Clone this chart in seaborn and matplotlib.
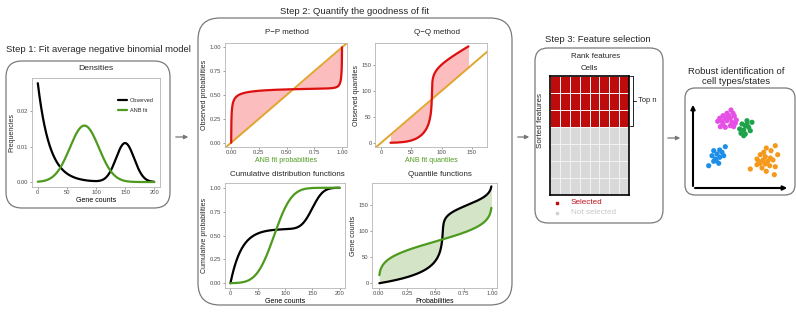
import math
import numpy as np
import pandas as pd
import matplotlib
matplotlib.use("Agg")
import matplotlib.pyplot as plt
import seaborn as sns
from matplotlib.patches import FancyBboxPatch
from matplotlib.colors import ListedColormap

# observed gene counts: a decaying component plus a peak
obs_decay_weight = 0.57
obs_decay_rate = 0.049
obs_peak_mean = 150
obs_peak_sd = 15.6
# average negative binomial fit
anb_mean = 80
anb_sd = 25

gene_counts = np.linspace(0, 200, 801)
probs = np.linspace(0.005, 0.995, 400)

# step 3 grid
n_cells = 8
n_features = 7
top_n = 3

# step 4 clusters (x, y positions)
magenta_x = [38, 34, 40, 30, 35.7, 41.3, 26.7, 32.3, 37.3, 43.3, 24.7, 29, 34, 39, 42.3, 27.3, 32.3, 37.3, 40.7, 30]
magenta_y = [78, 74.7, 74.7, 72.3, 72.3, 72, 69.7, 69.7, 69.7, 68, 66.7, 66.7, 67.3, 65.7, 64.7, 61.3, 60.7, 62.3, 61.3, 64]
green_x = [54, 59, 49, 52.3, 55.7, 46.7, 50.7, 57.3, 48, 52.3, 50.7, 54]
green_y = [67.3, 65.7, 64, 62.3, 60.7, 59, 58, 57.3, 54.7, 54, 52.3, 64]
blue_x = [32.3, 26.7, 20.7, 29, 24, 19, 30.7, 26.7, 22.3, 20.7, 25.7, 15.7, 23.3]
blue_y = [41.3, 38, 37.3, 35.7, 34, 32.3, 32.3, 30.7, 29, 26.7, 24.7, 22.3, 27.3]
orange_x = [82.3, 73.3, 78, 84.7, 67.3, 72.3, 77.3, 64, 70, 74.7, 80, 67.3, 72.3, 82.3, 64, 76.7, 69, 57.3, 73.3, 81.3, 65.7, 70.7]
orange_y = [42.3, 40, 37.3, 33.3, 33.3, 31.3, 30, 29, 28, 26.7, 28, 24.7, 24, 21.3, 23.3, 22.3, 20, 19, 16.7, 13.3, 26.7, 35.7]

RED = "#DD0F0F"
PINK = "#FBBDBD"
GOLD = "#E1A630"
GREEN = "#4E9A1E"
LGREEN = "#D3E5C6"
BOXC = "#7A7A7A"

sns.set_style("white")
plt.rcParams["font.family"] = ["Liberation Sans", "DejaVu Sans"]

erf = np.vectorize(math.erf)


def norm_pdf(x, m, s):
    return np.exp(-0.5 * ((x - m) / s) ** 2) / (s * np.sqrt(2 * np.pi))


def norm_cdf(x, m, s):
    return 0.5 * (1 + erf((x - m) / (s * np.sqrt(2))))


def obs_pdf(x):
    return (obs_decay_weight * obs_decay_rate * np.exp(-obs_decay_rate * x)
            + (1 - obs_decay_weight) * norm_pdf(x, obs_peak_mean, obs_peak_sd))


def obs_cdf(x):
    return (obs_decay_weight * (1 - np.exp(-obs_decay_rate * x))
            + (1 - obs_decay_weight) * norm_cdf(x, obs_peak_mean, obs_peak_sd))


x_fine = np.linspace(0, 260, 6000)
obs_q = np.interp(probs, obs_cdf(x_fine), x_fine)
anb_q = np.interp(probs, norm_cdf(x_fine, anb_mean, anb_sd), x_fine)

W, H = 796, 316
fig = plt.figure(figsize=(W / 100, H / 100), dpi=100)

bg = fig.add_axes([0, 0, 1, 1])
bg.set_xlim(0, W)
bg.set_ylim(H, 0)
bg.axis("off")


def box(x, y, w, h, r):
    bg.add_patch(FancyBboxPatch((x, y), w, h, boxstyle=f"round,pad=0,rounding_size={r}",
                                fc="white", ec=BOXC, lw=0.9))


def arrow(x0, x1, y, color="#777777", lw=0.9, ms=6):
    bg.annotate("", xy=(x1, y), xytext=(x0, y),
                arrowprops=dict(arrowstyle="-|>", color=color, lw=lw, mutation_scale=ms))


def txt(x, y, s, size=6.8, **kw):
    bg.text(x, y, s, fontsize=size, va="center", **kw)


def panel(x0, x1, y0, y1):
    ax = fig.add_axes([x0 / W, 1 - y1 / H, (x1 - x0) / W, (y1 - y0) / H])
    for s in ax.spines.values():
        s.set_visible(True)
        s.set_color("#B5B5B5")
        s.set_linewidth(0.6)
    ax.tick_params(labelsize=4.2, length=1.5, width=0.4, color="#555555", pad=1,
                   labelcolor="#4D4D4D", bottom=True, left=True)
    ax.grid(False)
    return ax


def labels(ax, xl, yl, xcolor="black"):
    ax.set_xlabel(xl, fontsize=5, labelpad=1.2, color=xcolor)
    ax.set_ylabel(yl, fontsize=5, labelpad=1.2)


# boxes and titles
box(6, 61, 164, 147, 16)
box(198, 18, 314, 287, 22)
box(535, 48, 128, 175, 13)
box(685, 88, 110, 107, 10)

txt(6, 50, "Step 1: Fit average negative binomial model", ha="left")
txt(355, 11, "Step 2: Quantify the goodness of fit", ha="center")
txt(598, 39, "Step 3: Feature selection", ha="center")
txt(736, 72, "Robust identification of", ha="center")
txt(736, 82, "cell types/states", ha="center")

txt(96, 69, "Densities", size=6.1, ha="center")
txt(287, 33, "P\u2212P method", size=5.8, ha="center")
txt(437, 33, "Q\u2212Q method", size=5.8, ha="center")
txt(287, 175, "Cumulative distribution functions", size=5.8, ha="center")
txt(440, 175, "Quantile functions", size=5.8, ha="center")
txt(596, 56, "Rank features", size=5.7, ha="center")
txt(589, 69, "Cells", size=5.7, ha="center")
txt(541, 120, "Sorted features", size=5.8, ha="center", rotation=90)

arrow(173, 191, 137)
arrow(515, 532, 137)
arrow(665, 683, 138)

# step 1: densities
ax = panel(32, 160, 78, 187)
sns.lineplot(x=gene_counts, y=obs_pdf(gene_counts), color="black", lw=1.6,
             label="Observed", ax=ax, sort=False, estimator=None)
sns.lineplot(x=gene_counts, y=norm_pdf(gene_counts, anb_mean, anb_sd), color=GREEN, lw=1.6,
             label="ANB fit", ax=ax, sort=False, estimator=None)
ax.set_xlim(-10, 210)
ax.set_ylim(-0.0014, 0.0294)
ax.set_xticks([0, 50, 100, 150, 200])
ax.set_yticks([0, 0.01, 0.02])
ax.set_yticklabels(["0.00", "0.01", "0.02"])
labels(ax, "Gene counts", "Frequencies")
ax.legend(loc="upper right", bbox_to_anchor=(0.99, 0.86), frameon=False, fontsize=4,
          handlelength=1.6, handletextpad=0.6, labelspacing=0.8)

# step 2: P-P
pp_x = norm_cdf(gene_counts, anb_mean, anb_sd)
pp_y = obs_cdf(gene_counts)
ax = panel(225, 347, 43, 147)
ax.fill_between(pp_x, pp_y, pp_x, color=PINK, lw=0)
sns.lineplot(x=[-0.1, 1.1], y=[-0.1, 1.1], color=GOLD, lw=1.4, ax=ax)
sns.lineplot(x=pp_x, y=pp_y, color=RED, lw=1.6, ax=ax, sort=False, estimator=None)
ax.set_xlim(-0.055, 1.045)
ax.set_ylim(-0.045, 1.045)
pticks = [0, 0.25, 0.5, 0.75, 1.0]
ax.set_xticks(pticks)
ax.set_yticks(pticks)
ax.set_xticklabels([f"{t:.2f}" for t in pticks])
ax.set_yticklabels([f"{t:.2f}" for t in pticks])
labels(ax, "ANB fit probabilities", "Observed probabilities", GREEN)

# step 2: Q-Q
ax = panel(375, 487, 43, 147)
ax.fill_between(anb_q, obs_q, anb_q, color=PINK, lw=0)
sns.lineplot(x=[-20, 220], y=[-20, 220], color=GOLD, lw=1.4, ax=ax)
sns.lineplot(x=anb_q, y=obs_q, color=RED, lw=1.6, ax=ax, sort=False, estimator=None)
ax.set_xlim(-10, 175)
ax.set_ylim(-8, 192)
ax.set_xticks([0, 50, 100, 150])
ax.set_yticks([0, 50, 100, 150])
labels(ax, "ANB fit quantiles", "Observed quantiles", GREEN)

# step 2: CDFs
ax = panel(225, 345, 183, 288)
sns.lineplot(x=gene_counts, y=obs_cdf(gene_counts), color="black", lw=1.6, ax=ax,
             sort=False, estimator=None)
sns.lineplot(x=gene_counts, y=norm_cdf(gene_counts, anb_mean, anb_sd), color=GREEN, lw=1.6,
             ax=ax, sort=False, estimator=None)
ax.set_xlim(-10, 210)
ax.set_ylim(-0.05, 1.05)
ax.set_xticks([0, 50, 100, 150, 200])
ax.set_yticks(pticks)
ax.set_yticklabels([f"{t:.2f}" for t in pticks])
labels(ax, "Gene counts", "Cumulative probabilities")

# step 2: quantile functions
ax = panel(372, 497, 183, 288)
ax.fill_between(probs, obs_q, anb_q, color=LGREEN, lw=0)
sns.lineplot(x=probs, y=obs_q, color="black", lw=1.6, ax=ax, sort=False, estimator=None)
sns.lineplot(x=probs, y=anb_q, color=GREEN, lw=1.6, ax=ax, sort=False, estimator=None)
ax.set_xlim(-0.06, 1.045)
ax.set_ylim(-9, 192)
ax.set_xticks(pticks)
ax.set_xticklabels([f"{t:.2f}" for t in pticks])
ax.set_yticks([0, 50, 100, 150])
labels(ax, "Probabilities", "Gene counts")

# step 3: ranked feature grid
selected = np.zeros((n_features, n_cells))
selected[:top_n, :] = 1
axh = fig.add_axes([550 / W, 1 - 195 / H, 79 / W, 119 / H])
sns.heatmap(selected, ax=axh, cmap=ListedColormap(["#D9D9D9", "#BE0C0C"]), cbar=False,
            linewidths=0.7, linecolor="#F2F2F2", xticklabels=False, yticklabels=False)
for s in axh.spines.values():
    s.set_visible(True)
    s.set_color("black")
    s.set_linewidth(1.2)

# bracket for top n
bg.plot([630, 633, 633, 630], [76, 76, 126, 126], color="black", lw=0.6)
bg.plot([633, 636], [101, 101], color="black", lw=0.6)
txt(638, 101, "Top n", size=5.4, ha="left")

bg.scatter([557], [203], marker="s", s=3, color="#BE0C0C")
bg.scatter([557], [213], marker="s", s=3, color="#D0D0D0")
txt(571, 203, "Selected", size=5.9, ha="left", color="#C0141E")
txt(571, 213, "Not selected", size=5.9, ha="left", color="#C8C8C8")

# step 4: clusters
cells = pd.concat([
    pd.DataFrame({"x": magenta_x, "y": magenta_y, "type": "a"}),
    pd.DataFrame({"x": green_x, "y": green_y, "type": "b"}),
    pd.DataFrame({"x": blue_x, "y": blue_y, "type": "c"}),
    pd.DataFrame({"x": orange_x, "y": orange_y, "type": "d"}),
])
axs = fig.add_axes([693 / W, 1 - 188 / H, 96 / W, 86 / H])
sns.scatterplot(data=cells, x="x", y="y", hue="type", ax=axs, s=14, linewidth=0, legend=False,
                palette={"a": "#E64FE6", "b": "#1FA34A", "c": "#1E8FE8", "d": "#F5991C"})
axs.set_xlim(0, 96)
axs.set_ylim(0, 86)
axs.axis("off")
bg.annotate("", xy=(693, 102), xytext=(693, 188.8),
            arrowprops=dict(arrowstyle="-|>", color="black", lw=1.5, mutation_scale=6))
bg.annotate("", xy=(790, 188), xytext=(692.2, 188),
            arrowprops=dict(arrowstyle="-|>", color="black", lw=1.5, mutation_scale=6))

fig.savefig("out.png", dpi=100)
